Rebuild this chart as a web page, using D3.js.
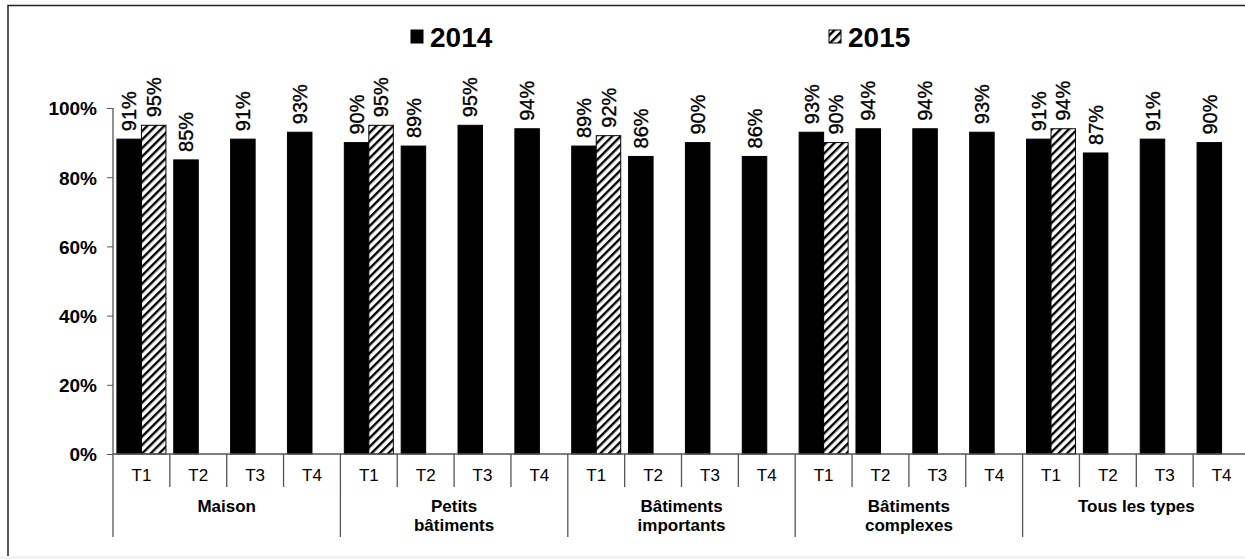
<!DOCTYPE html>
<html>
<head>
<meta charset="utf-8">
<script src="https://cdn.jsdelivr.net/npm/d3@7"></script>
<style>
  html, body { margin: 0; padding: 0; background: #fff; }
  svg { display: block; }
  text { font-family: "Liberation Sans", Arial, sans-serif; fill: #000; }
</style>
</head>
<body>
<svg id="chart" width="1245" height="559"></svg>
<script>
// Building types (each group label may wrap on two lines)
const groups = ["Maison", "Petits bâtiments", "Bâtiments importants", "Bâtiments complexes", "Tous les types"];
const groupLines = [["Maison"], ["Petits", "bâtiments"], ["Bâtiments", "importants"], ["Bâtiments", "complexes"], ["Tous les types"]];
const quarters = ["T1", "T2", "T3", "T4"];
const years = ["2014", "2015"];

// Share per quarter, in percent (2015 only known for T1)
const values2014 = [
  [91, 85, 91, 93],
  [90, 89, 95, 94],
  [89, 86, 90, 86],
  [93, 94, 94, 93],
  [91, 87, 91, 90]
];
const values2015 = [
  [95, null, null, null],
  [95, null, null, null],
  [92, null, null, null],
  [90, null, null, null],
  [94, null, null, null]
];
const yTicks = [0, 0.2, 0.4, 0.6, 0.8, 1.0];

const svg = d3.select("#chart");
const W = 1245, H = 559;
const plot = { left: 113, right: 1250, top: 108, bottom: 454 };

// frame
svg.append("rect").attr("x", 0).attr("y", 556).attr("width", W).attr("height", H - 556).attr("fill", "#f3f3f3");
svg.append("path")
  .attr("d", `M8,556 L8,5.5 L${W},5.5`)
  .attr("fill", "none").attr("stroke", "#222").attr("stroke-width", 1.5);

// hatch pattern
const defs = svg.append("defs");
const pat = defs.append("pattern")
  .attr("id", "hatch").attr("patternUnits", "userSpaceOnUse")
  .attr("width", 6).attr("height", 6)
  .attr("patternTransform", "rotate(45)");
pat.append("rect").attr("width", 6).attr("height", 6).attr("fill", "#fff");
pat.append("rect").attr("x", 0).attr("y", 0).attr("width", 2.4).attr("height", 6).attr("fill", "#000");

// category keys
const cats = [];
groups.forEach((g, gi) => quarters.forEach((q, qi) => cats.push({ g, gi, q, qi, key: gi + "|" + q })));

const x0 = d3.scaleBand().domain(cats.map(c => c.key)).range([plot.left, plot.right]).padding(0);
const x1 = d3.scaleBand().domain(years).range([0, x0.bandwidth()]).paddingInner(0).paddingOuter(0.16);
const y = d3.scaleLinear().domain([0, 1]).range([plot.bottom, plot.top]);

// y axis
const yAxis = d3.axisLeft(y).tickValues(yTicks).tickFormat(d3.format(".0%")).tickSize(6).tickPadding(10);
const yg = svg.append("g").attr("transform", `translate(${plot.left},0)`).call(yAxis);
yg.select(".domain").remove();
yg.selectAll(".tick line").attr("stroke", "#555");
yg.selectAll(".tick text").attr("font-size", "19px").attr("font-weight", "bold").attr("dy", "0.36em");

// bars
const bars = [];
cats.forEach(c => {
  bars.push({ c, year: "2014", v: values2014[c.gi][c.qi] });
  const v15 = values2015[c.gi][c.qi];
  if (v15 != null) bars.push({ c, year: "2015", v: v15 });
});

svg.append("g").selectAll("rect").data(bars).join("rect")
  .attr("x", d => x0(d.c.key) + x1(d.year))
  .attr("y", d => y(d.v / 100))
  .attr("width", x1.bandwidth())
  .attr("height", d => y(0) - y(d.v / 100))
  .attr("fill", d => d.year === "2014" ? "#000" : "url(#hatch)")
  .attr("stroke", "#000").attr("stroke-width", 1);

// value labels
svg.append("g").selectAll("text").data(bars).join("text")
  .attr("transform", d => `translate(${x0(d.c.key) + x1(d.year) + x1.bandwidth() / 2},${y(d.v / 100) - 8}) rotate(-90)`)
  .attr("dy", "0.36em")
  .attr("text-anchor", "start")
  .attr("font-size", "20px")
  .attr("stroke", "#000").attr("stroke-width", 0.35)
  .text(d => d.v + "%");

// axes lines
const axisColor = "#555";
svg.append("line").attr("x1", plot.left).attr("x2", plot.right).attr("y1", plot.bottom).attr("y2", plot.bottom)
  .attr("stroke", axisColor).attr("stroke-width", 1.3);
svg.append("line").attr("x1", plot.left).attr("x2", plot.left).attr("y1", plot.top).attr("y2", 537)
  .attr("stroke", axisColor).attr("stroke-width", 1.3);

// category separators
const sep = svg.append("g");
cats.forEach(c => {
  if (c.gi === 0 && c.qi === 0) return;
  const xs = x0(c.key);
  sep.append("line").attr("x1", xs).attr("x2", xs)
    .attr("y1", plot.bottom).attr("y2", c.qi === 0 ? 537 : 487)
    .attr("stroke", axisColor).attr("stroke-width", 1.3);
});

// quarter labels
svg.append("g").selectAll("text").data(cats).join("text")
  .attr("x", d => x0(d.key) + x0.bandwidth() / 2)
  .attr("y", 481)
  .attr("text-anchor", "middle")
  .attr("font-size", "17px")
  .text(d => d.q);

// group labels
groups.forEach((g, gi) => {
  const xa = x0(gi + "|T1"), xb = x0(gi + "|T4") + x0.bandwidth();
  const t = svg.append("text")
    .attr("x", (xa + xb) / 2).attr("y", 512)
    .attr("text-anchor", "middle").attr("font-size", "17px").attr("font-weight", "bold");
  groupLines[gi].forEach((line, li) => {
    t.append("tspan").attr("x", (xa + xb) / 2).attr("dy", li === 0 ? 0 : 19).text(line);
  });
});

// legend
const legend = [
  { year: "2014", x: 411, fill: "#000" },
  { year: "2015", x: 829, fill: "url(#hatch)" }
];
const lg = svg.append("g").selectAll("g").data(legend).join("g")
  .attr("transform", d => `translate(${d.x},0)`);
lg.append("rect").attr("x", 0).attr("y", 30).attr("width", 12).attr("height", 13)
  .attr("fill", d => d.fill).attr("stroke", "#000").attr("stroke-width", 1);
lg.append("text").attr("x", 19).attr("y", 46.5)
  .attr("font-size", "28px").attr("font-weight", "bold")
  .text(d => d.year);
</script>
</body>
</html>
